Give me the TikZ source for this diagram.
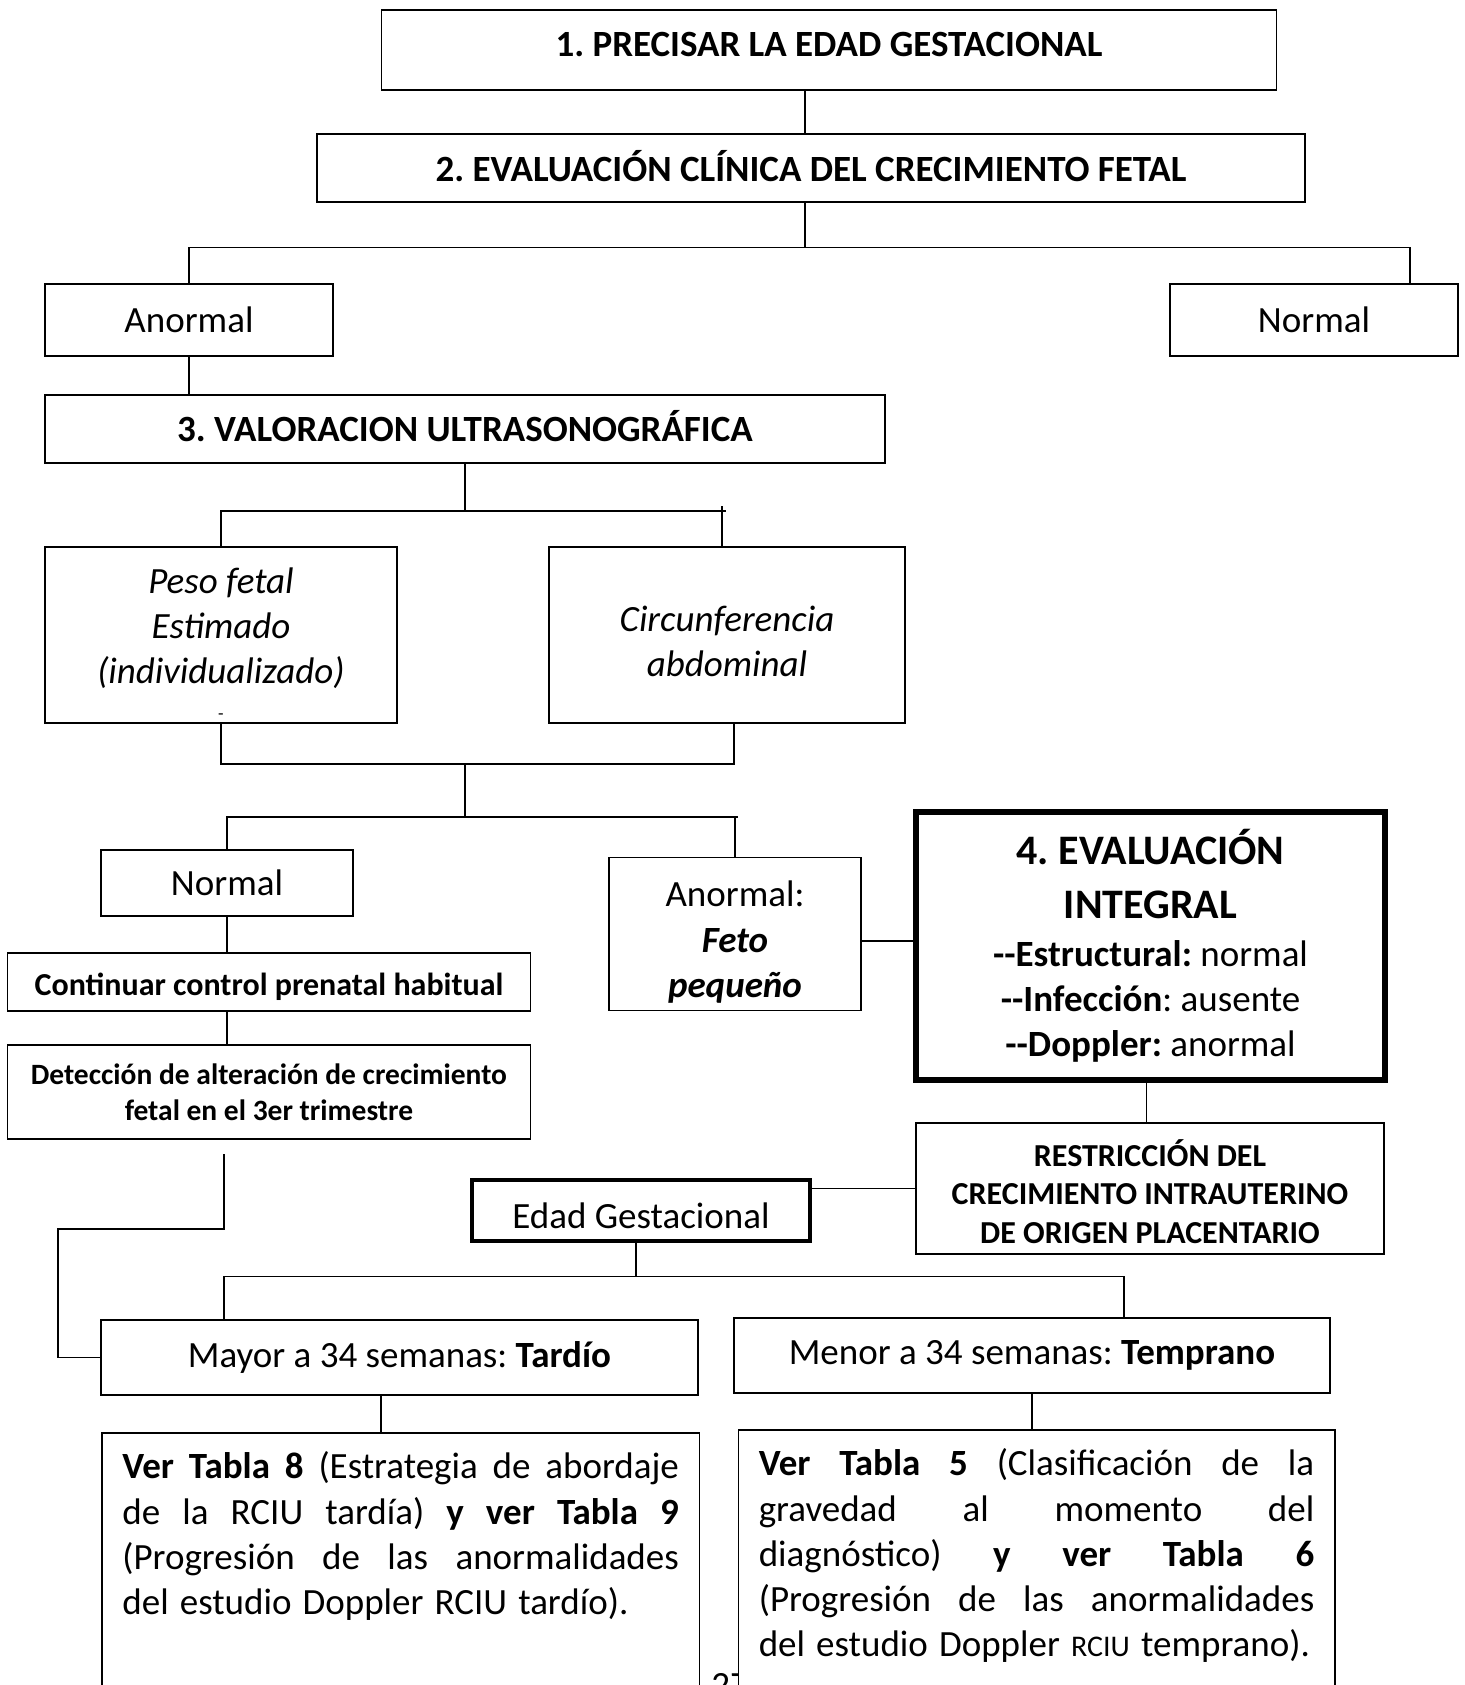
\documentclass[tikz,border=0pt]{standalone}
\usepackage{fontspec}
\setmainfont{Carlito}
\frenchspacing

\newcommand{\fsmain}{\fontsize{18.5pt}{22.6pt}\selectfont}
\newcommand{\fsbig}{\fontsize{21pt}{26.4pt}\selectfont}
\newcommand{\fssmall}{\fontsize{16pt}{19.3pt}\selectfont}
\newcommand{\fullline}[1]{\makebox[\linewidth][s]{\spaceskip=0.3em plus 1em\relax #1}}

\begin{document}
\begin{tikzpicture}[
    x=0.5pt, y=-0.5pt,
    box/.style={rectangle, draw, line width=0.9pt, fill=white, inner sep=0pt, align=center, font=\fsmain},
    boldbox/.style={box, line width=2pt},
    heavybox/.style={box, line width=3pt},
    tabbox/.style={rectangle, draw, line width=0.9pt, fill=white, anchor=north west, inner xsep=10.25pt, inner ysep=0pt, align=justify, font={\fsmain\spaceskip=0.3em plus 0.5em\relax}, text height=23pt, text depth=150pt},
    link/.style={line width=0.8pt}
]
    \path[use as bounding box, clip] (0,0) rectangle (1464,1685);
    \fill[white] (0,0) rectangle (1464,1685);

    % Steps 1 and 2
    \node[box, minimum width=447.5pt, minimum height=40pt] (precisar) at (829,50) {\textbf{1. PRECISAR LA EDAD GESTACIONAL}\rule[-5.4pt]{0pt}{0pt}};
    \node[box, minimum width=494pt, minimum height=34pt] (clinica) at (811,168) {\textbf{2. EVALUACIÓN CLÍNICA DEL CRECIMIENTO FETAL}\rule[-2.2pt]{0pt}{0pt}};

    % Clinical result
    \node[box, minimum width=144pt, minimum height=36pt] (anormal) at (189,320) {Anormal};
    \node[box, minimum width=144pt, minimum height=36pt] (normal) at (1314,320) {Normal};

    % Step 3
    \node[box, minimum width=420pt, minimum height=34pt] (ultra) at (465,429) {\textbf{3. VALORACION ULTRASONOGRÁFICA}\rule[-3.2pt]{0pt}{0pt}};
    \node[box, minimum width=176pt, minimum height=88pt] (peso) at (221,635) {\rule{0pt}{21.4pt}\textit{Peso fetal}\\\textit{Estimado}\\\textit{(individualizado)}\\[-4.5pt]{\fontsize{9pt}{10pt}\selectfont -}};
    \node[box, minimum width=178pt, minimum height=88pt] (circ) at (727,635) {\rule{0pt}{19.3pt}\textit{Circunferencia}\\\textit{abdominal}};

    % Ultrasound result
    \node[box, minimum width=126pt, minimum height=33pt] (normalus) at (227,883) {Normal};
    \node[box, minimum width=126pt, minimum height=76.5pt] (feto) at (735,934) {\rule{0pt}{21pt}Anormal:\\\textbf{\textit{Feto}}\\\textbf{\textit{pequeño}}};
    \node[box, font=\fssmall, minimum width=261.5pt, minimum height=29pt] (control) at (269,982) {\rule{0pt}{16.3pt}\textbf{Continuar control prenatal habitual}};
    \node[box, font={\fontsize{14.75pt}{18.25pt}\selectfont}, minimum width=261.5pt, minimum height=47pt] (deteccion) at (269,1092) {\textbf{Detección de alteración de crecimiento}\\\textbf{fetal en el 3er trimestre}};

    % Step 4
    \node[heavybox, minimum width=234.5pt, minimum height=134pt] (integral) at (1150.5,946) {{\fsbig\textbf{4. EVALUACIÓN}}\\[4pt]{\fsbig\textbf{INTEGRAL}}\\[1.5pt]\textbf{-{}-Estructural:} normal\\\textbf{-{}-Infección}: ausente\\\textbf{-{}-Doppler:} anormal};
    \node[box, font={\fssmall\bfseries}, minimum width=234pt, minimum height=65.5pt] (rciu) at (1150,1188.5) {\rule{0pt}{16.5pt}RESTRICCIÓN DEL\\CRECIMIENTO INTRAUTERINO\\DE ORIGEN PLACENTARIO};

    % Gestational age
    \node[boldbox, minimum width=169pt, minimum height=30.5pt] (edad) at (641,1210.5) {\rule{0pt}{18.2pt}Edad Gestacional};
    \node[box, minimum width=298.5pt, minimum height=37.5pt] (mayor) at (399.5,1357.5) {Mayor a 34 semanas: \textbf{Tardío}};
    \node[box, minimum width=298pt, minimum height=37.5pt] (menor) at (1032,1355.5) {Menor a 34 semanas: \textbf{Temprano}};

    % Page number, partly hidden
    \node[font=\fsmain, inner sep=0pt, anchor=north west] (pagina) at (711,1673) {27};

    % Tables
    \node[tabbox, text width=278.25pt] (tabla8) at (101,1432) {\fullline{\textbf{Ver Tabla 8} (Estrategia de abordaje}\\\fullline{de la RCIU tardía) \textbf{y ver Tabla 9}}\\\fullline{(Progresión de las anormalidades}\\del estudio Doppler RCIU tardío).};
    \node[tabbox, inner xsep=10.2pt, text width=277.75pt] (tabla6) at (737.5,1429) {\fullline{\textbf{Ver Tabla 5} (Clasificación de la}\\\fullline{gravedad al momento del}\\\fullline{diagnóstico) \textbf{y ver Tabla 6}}\\\fullline{(Progresión de las anormalidades}\\del estudio Doppler {\fontsize{15pt}{18pt}\selectfont RCIU} temprano).};

    % Connectors
    \coordinate (k1) at (805,0);
    \draw[link] (precisar.south -| k1) -- (clinica.north -| k1);
    \coordinate (br1) at (805,247.5);
    \coordinate (br1r) at (1410,247.5);
    \draw[link] (clinica.south -| br1) -- (br1);
    \draw[link] (anormal.north) |- (br1r) -- (br1r |- normal.north);
    \draw[link] (anormal.south) -- (anormal.south |- ultra.north);

    \coordinate (br2) at (465,511);
    \coordinate (br2r) at (726,511);
    \coordinate (tick) at (722,506);
    \draw[link] (ultra.south) -- (br2);
    \draw[link] (peso.north) |- (br2r);
    \draw[link] (tick) -- (tick |- circ.north);

    \coordinate (mg) at (734,764);
    \coordinate (mgc) at (465,764);
    \coordinate (br3) at (465,817);
    \coordinate (br3r) at (738,817);
    \draw[link] (peso.south) |- (mg) -- (mg |- circ.south);
    \draw[link] (mgc) -- (br3);
    \draw[link] (normalus.north) |- (br3r);
    \draw[link] (feto.north) -- (feto.north |- br3r);
    \draw[link] (normalus.south) -- (normalus.south |- control.north);
    \draw[link] (normalus.south |- control.south) -- (normalus.south |- deteccion.north);

    \coordinate (fi) at (0,941);
    \draw[link] (feto.east |- fi) -- (integral.west |- fi);
    \coordinate (ir) at (1146.6,0);
    \draw[link] (integral.south -| ir) -- (rciu.north -| ir);
    \draw[link] (rciu.west) -- (rciu.west -| edad.east);

    \coordinate (br4) at (636,1276.5);
    \coordinate (br4l) at (224,1276.5);
    \coordinate (br4r) at (1124,1276.5);
    \draw[link] (edad.south -| br4) -- (br4);
    \draw[link] (br4l |- mayor.north) -- (br4l) -- (br4r) -- (br4r |- menor.north);
    \coordinate (dgap) at (224,1154);
    \draw[link] (dgap) -- ++(0,75) -- ++(-166,0) |- (mayor.west);
    \coordinate (m8) at (381,0);
    \draw[link] (mayor.south -| m8) -- (tabla8.north -| m8);
    \draw[link] (menor.south) -- (menor.south |- tabla6.north);
\end{tikzpicture}
\end{document}
